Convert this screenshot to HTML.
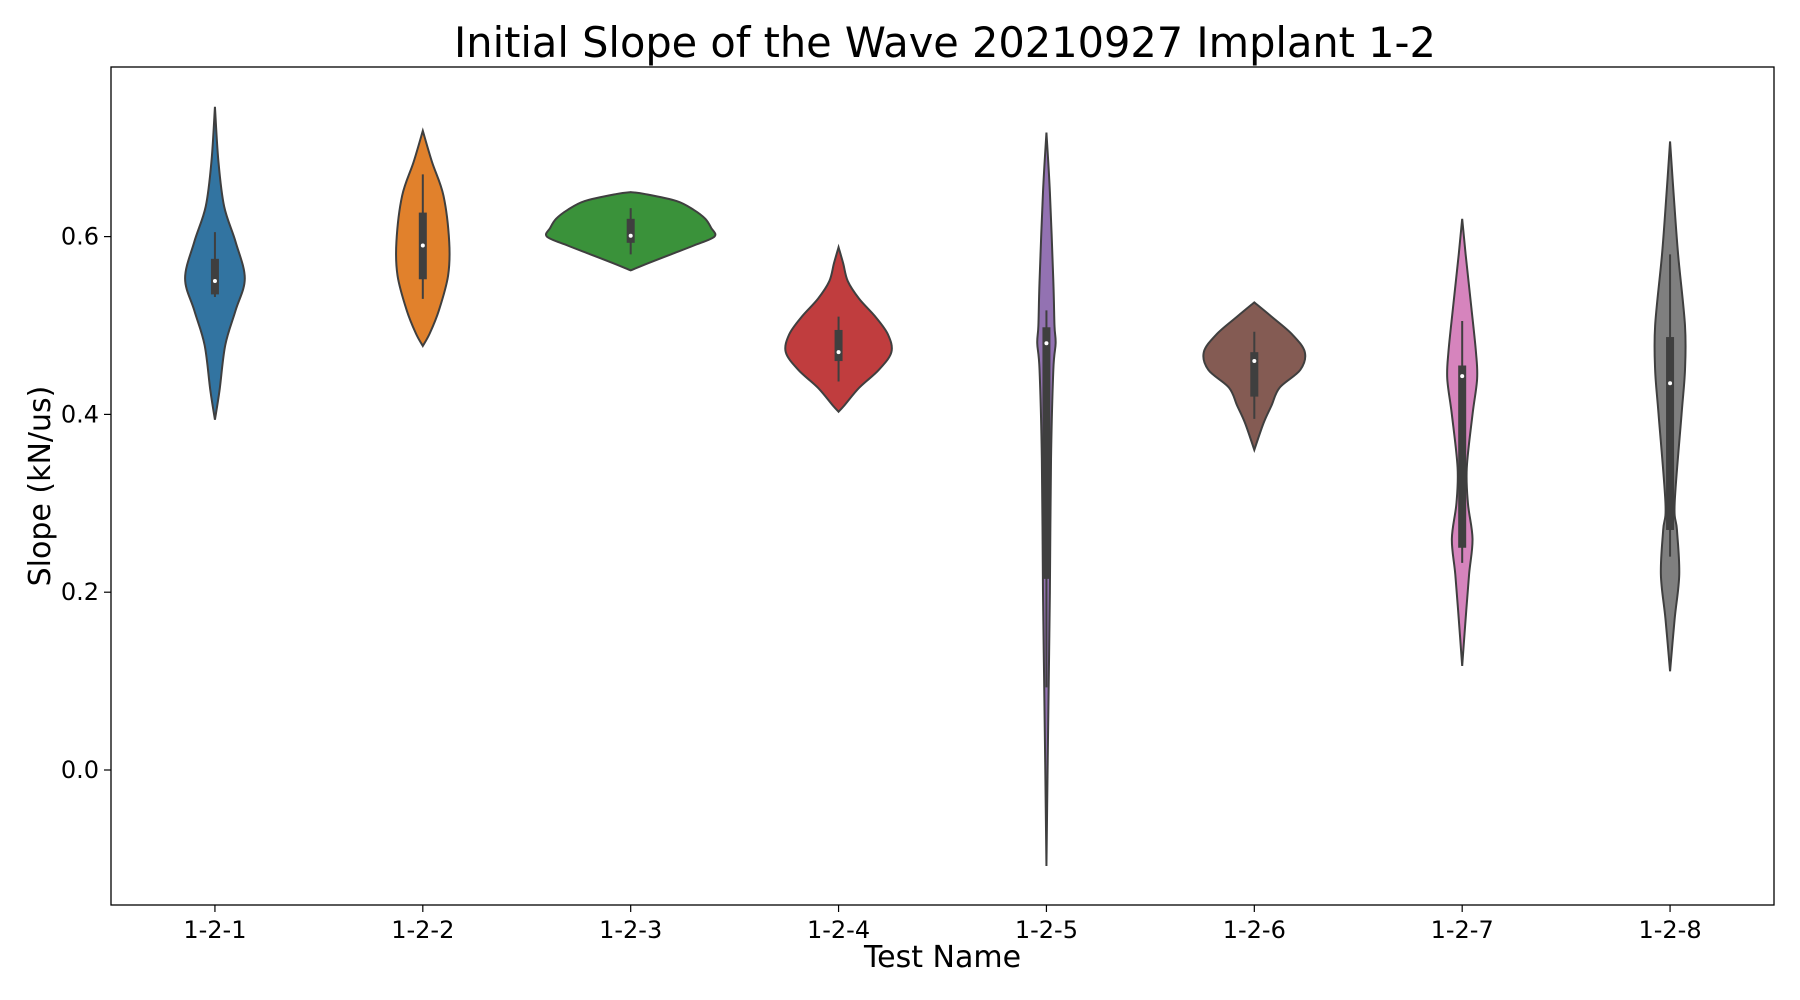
<!DOCTYPE html>
<html><head><meta charset="utf-8"><style>
body{margin:0;background:#fff;}
svg{display:block;font-family:"DejaVu Sans","Liberation Sans",sans-serif;}
</style></head><body>
<svg id="chart" width="1800" height="1000"></svg>
<script>
const categories=["1-2-1","1-2-2","1-2-3","1-2-4","1-2-5","1-2-6","1-2-7","1-2-8"];
const colors=["#3274a1","#e1812c","#3a923a","#c03d3e","#9372b2","#845b53","#d684bd","#7f7f7f"];
const kdeValues=[
[0.746,0.685,0.634,0.594,0.553,0.517,0.478,0.427,0.394],
[0.719,0.684,0.646,0.594,0.556,0.517,0.491,0.477],
[0.650,0.648,0.64,0.63,0.62,0.61,0.60,0.59,0.58,0.57,0.562],
[0.588,0.57,0.55,0.53,0.51,0.49,0.47,0.45,0.43,0.41,0.403],
[0.717,0.65,0.55,0.50,0.48,0.45,0.35,0.2,0.1,0,-0.108],
[0.526,0.51,0.49,0.47,0.45,0.43,0.41,0.39,0.36],
[0.62,0.58,0.52,0.47,0.44,0.40,0.34,0.30,0.26,0.22,0.17,0.117],
[0.707,0.65,0.58,0.50,0.45,0.40,0.30,0.27,0.22,0.17,0.111]];
const kdeDensity=[
[0,3,8,18,26,18,9,4,0],
[0,8,18,23,22,14,6,0],
[0,12,40,55,65,70,73,55,35,15,0],
[0,4,8,18,32,43,46,35,18,5,0],
[0,3,6,7,8,6,4,3,2,1,0],
[0,15,33,44,40,22,15,8,0],
[0,3,8,12,13,9,4,5,9,6,3,0],
[0,3,7,13,13,10,4,6,8,4,0]];
const q1=[0.535,0.552,0.593,0.46,0.215,0.42,0.25,0.27];
const q3=[0.575,0.627,0.62,0.495,0.498,0.47,0.455,0.487];
const medians=[0.55,0.59,0.601,0.47,0.48,0.46,0.443,0.435];
const whiskLo=[0.532,0.53,0.58,0.437,0.093,0.395,0.233,0.24];
const whiskHi=[0.605,0.67,0.632,0.51,0.517,0.493,0.505,0.58];
const yTicks=[0.0,0.2,0.4,0.6];

const L=111,R=1774,T=67,B=905;
const y=v=>770-v*889;
const x=i=>L+(R-L)/categories.length*(i+0.5);
const wScale=1.148;
const svg=document.getElementById('chart');
const NS='http://www.w3.org/2000/svg';
function mk(t,a,txt){const e=document.createElementNS(NS,t);for(const k in a)e.setAttribute(k,a[k]);if(txt!==undefined)e.textContent=txt;svg.appendChild(e);return e;}

let e=mk('text',{x:945,y:57,'font-size':41.5,'text-anchor':'middle',fill:'#000'},'Initial Slope of the Wave 20210927 Implant 1-2');



function smooth(pts){let d='M'+pts[0][0]+','+pts[0][1];for(let i=0;i<pts.length-1;i++){const p0=pts[Math.max(0,i-1)],p1=pts[i],p2=pts[i+1],p3=pts[Math.min(pts.length-1,i+2)];d+=' C'+(p1[0]+(p2[0]-p0[0])/6)+','+(p1[1]+(p2[1]-p0[1])/6)+' '+(p2[0]-(p3[0]-p1[0])/6)+','+(p2[1]-(p3[1]-p1[1])/6)+' '+p2[0]+','+p2[1];}return d;}

categories.forEach((c,i)=>{
  const cx=x(i);
  const right=kdeValues[i].map((v,j)=>[cx+kdeDensity[i][j]*wScale,y(v)]);
  const left=kdeValues[i].map((v,j)=>[cx-kdeDensity[i][j]*wScale,y(v)]).reverse();
  const d=smooth(right)+' L'+smooth(left).slice(1)+' Z';
  let p=mk('path',{d:d,fill:colors[i],stroke:'#3f3f3f','stroke-width':2});
  
  
  let w=mk('line',{x1:cx,x2:cx,y1:y(whiskLo[i]),y2:y(whiskHi[i]),stroke:'#3f3f3f','stroke-width':2});
  
  
  let b=mk('rect',{x:cx-4,y:y(q3[i]),width:8,height:y(q1[i])-y(q3[i]),fill:'#3f3f3f'});
  
  
  let m=mk('circle',{cx:cx,cy:y(medians[i]),r:2,fill:'#fff'});
  
  
  let t=mk('line',{x1:cx,x2:cx,y1:B,y2:B+7,stroke:'#000','stroke-width':1.2});
  
  
  let tl=mk('text',{x:cx,y:B+33,'font-size':24,'text-anchor':'middle',fill:'#000'},c);
  
  
});
yTicks.forEach(v=>{
  let t=mk('line',{x1:L-7,x2:L,y1:y(v),y2:y(v),stroke:'#000','stroke-width':1.2});
  
  
  let tl=mk('text',{x:L-12,y:y(v)+8,'font-size':24,'text-anchor':'end',fill:'#000'},v.toFixed(1));
  
  
});
let fr=mk('rect',{x:L,y:T,width:R-L,height:B-T,fill:'none',stroke:'#000','stroke-width':1.3});


let xl=mk('text',{x:(L+R)/2,y:967,'font-size':30,'text-anchor':'middle',fill:'#000'},'Test Name');


let yl=mk('text',{x:0,y:0,'font-size':30,'text-anchor':'middle',fill:'#000',transform:'translate(50,486) rotate(-90)'},'Slope (kN/us)');


</script>
</body></html>
